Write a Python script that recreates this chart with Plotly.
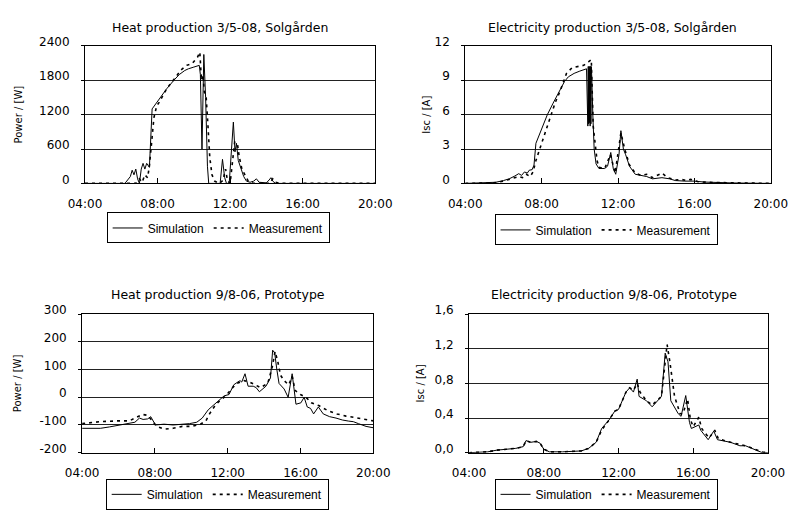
import plotly.graph_objects as go

# ---- Heat production 3/5-08, Solgården (W) ----
heat_sg_sim_t = [4.0, 6.2, 6.35, 6.5, 6.6, 6.7, 6.8, 6.9, 7.0, 7.1, 7.2, 7.3, 7.4, 7.55, 7.7, 8.0, 8.5, 8.9,
                 9.2, 9.5, 9.7, 10.0, 10.3, 10.36, 10.45, 10.55, 10.65, 10.75, 10.82, 11.45, 11.58, 11.7, 11.8,
                 11.95, 12.1, 12.18, 12.27, 12.35, 12.45, 12.6, 12.75, 12.9, 13.1, 13.3, 13.45, 13.6, 14.0,
                 14.15, 14.25, 14.35, 14.5, 20.0]
heat_sg_sim = [0, 0, 60, 120, 230, 150, 250, 80, 0, 250, 350, 250, 350, 280, 1300, 1430, 1650, 1800,
               1900, 1970, 2000, 2030, 2060, 1900, 600, 2250, 1500, 300, 0, 0, 420, 100, 0,
               0, 600, 1070, 550, 700, 400, 250, 120, 40, 20, 40, 80, 20, 10,
               60, 100, 40, 0, 0]
heat_sg_meas_t = [4.0, 6.8, 7.0, 7.15, 7.3, 7.45, 7.55, 7.65, 7.8, 7.95, 8.1, 8.5, 9.0, 9.3, 9.6, 9.9, 10.2,
                  10.33, 10.42, 10.5, 10.58, 10.68, 10.78, 10.88, 11.0, 11.15, 11.4, 11.6, 11.75, 11.85, 12.0,
                  12.1, 12.25, 12.4, 12.5, 12.65, 12.8, 13.0, 13.3, 14.2, 14.35, 14.5, 14.8, 20.0]
heat_sg_meas = [0, 0, 80, 20, 150, 100, 300, 600, 1150, 1350, 1420, 1650, 1850, 1980, 2060, 2090, 2200,
                2290, 1800, 1900, 1600, 1500, 1000, 450, 150, 40, 0, 50, 250, 50, 0,
                300, 720, 700, 470, 250, 150, 40, 0, 0, 80, 20, 0, 0]

# ---- Electricity production 3/5-08, Solgården (A) ----
el_sg_sim_t = [4.0, 5.0, 5.6, 6.0, 6.3, 6.6, 6.8, 6.95, 7.1, 7.25, 7.35, 7.5, 7.6, 7.7, 8.0, 8.3, 8.6, 8.9,
               9.2, 9.4, 9.7, 10.0, 10.35, 10.42, 10.44, 10.46, 10.48, 10.5, 10.52, 10.54, 10.56, 10.58,
               10.6, 10.62, 10.68, 10.75, 10.85, 11.0, 11.3, 11.45, 11.62, 11.75, 11.88, 12.05, 12.15,
               12.28, 12.4, 12.6, 12.9, 13.2, 13.5, 13.8, 14.0, 14.3, 14.7, 15.0, 15.5, 16.0, 16.5, 17.0,
               18.0, 19.0, 20.0]
el_sg_sim = [0.0, 0.03, 0.1, 0.25, 0.4, 0.65, 0.85, 0.7, 1.0, 0.9, 1.15, 1.2, 1.6, 3.5, 4.7, 6.0, 7.0, 8.0,
             8.9, 9.3, 9.6, 9.8, 10.0, 5.0, 10.2, 5.2, 10.2, 5.3, 10.2, 5.0, 10.2, 5.2,
             10.2, 9.5, 6.0, 3.0, 1.7, 1.3, 1.3, 1.5, 2.7, 1.3, 0.8, 2.5, 4.6,
             3.0, 2.5, 1.5, 0.8, 0.7, 0.6, 0.4, 0.45, 0.5, 0.4, 0.25, 0.2, 0.2, 0.12, 0.08,
             0.04, 0.02, 0.0]
el_sg_meas_t = [4.0, 5.5, 6.0, 6.5, 6.8, 7.0, 7.2, 7.4, 7.55, 7.7, 7.9, 8.1, 8.4, 8.7, 9.0, 9.3, 9.6, 9.9,
                10.2, 10.45, 10.6, 10.7, 10.8, 10.9, 11.0, 11.3, 11.6, 11.85, 12.15, 12.35, 12.6, 12.9,
                13.2, 13.5, 13.8, 14.3, 14.6, 15.0, 15.3, 15.6, 15.8, 16.2, 17.0, 18.0, 20.0]
el_sg_meas = [0.0, 0.05, 0.2, 0.45, 0.6, 0.5, 0.8, 0.6, 1.0, 2.0, 3.0, 4.2, 5.7, 7.0, 8.2, 9.6, 10.1, 10.2,
              10.3, 10.6, 10.8, 5.0, 3.2, 2.0, 1.4, 1.3, 2.5, 0.9, 4.4, 3.0, 1.6, 0.9,
              0.7, 0.8, 0.5, 0.9, 0.5, 0.3, 0.35, 0.25, 0.35, 0.15, 0.08, 0.04, 0.0]

# ---- Heat production 9/8-06, Prototype (W) ----
heat_pt_sim_t = [4.0, 5.0, 5.5, 6.0, 6.5, 6.9, 7.15, 7.35, 7.6, 7.77, 8.03, 8.5, 9.0, 9.5, 9.9, 10.3, 10.6,
                 10.93, 11.28, 11.55, 11.8, 12.07, 12.33, 12.55, 12.68, 12.77, 12.95, 13.12, 13.4, 13.56,
                 13.74, 14.1, 14.35, 14.47, 14.58, 14.7, 14.82, 15.1, 15.32, 15.54, 15.65, 15.75, 16.02,
                 16.2, 16.37, 16.55, 16.72, 16.98, 17.25, 17.6, 17.95, 18.3, 18.65, 18.9, 19.18, 19.6, 20.0]
heat_pt_sim = [-112, -112, -107, -100, -95, -90, -75, -80, -78, -70, -100, -97, -100, -98, -95, -90, -75,
               -45, -25, -10, 5, 10, 45, 55, 60, 55, 85, 40, 40, 35,
               20, 40, 70, 170, 160, 100, 50, 30, 0, 85, 30, -25, -20,
               0, -35, -40, -60, -35, -60, -70, -75, -82, -86, -88, -95, -105, -110]
heat_pt_meas_t = [4.0, 5.0, 6.0, 6.6, 7.0, 7.3, 7.6, 7.85, 8.1, 8.5, 9.0, 9.5, 10.0, 10.5, 10.8, 11.0, 11.3,
                  11.6, 11.9, 12.2, 12.5, 12.9, 13.2, 13.5, 13.8, 14.2, 14.45, 14.6, 14.75, 14.9, 15.1,
                  15.35, 15.55, 15.7, 16.0, 16.3, 16.6, 17.0, 17.5, 18.0, 18.5, 19.0, 19.5, 20.0]
heat_pt_meas = [-95, -88, -85, -85, -72, -62, -65, -85, -105, -115, -112, -105, -105, -97, -85, -60, -30,
                -10, 5, 30, 50, 60, 55, 45, 35, 50, 110, 165, 130, 80, 60,
                45, 75, 25, 10, 0, -20, -30, -48, -60, -68, -73, -78, -85]

# ---- Electricity production 9/8-06, Prototype (A) ----
el_pt_sim_t = [4.0, 5.0, 5.5, 6.5, 6.9, 7.05, 7.3, 7.6, 7.8, 8.0, 8.3, 9.0, 10.0, 10.4, 10.8, 11.1, 11.5,
               11.8, 12.0, 12.4, 12.6, 12.8, 13.0, 13.1, 13.5, 13.8, 14.3, 14.5, 14.65, 14.8, 15.2, 15.35,
               15.6, 15.8, 15.9, 16.3, 16.4, 16.6, 16.8, 17.1, 17.3, 18.0, 18.5, 18.8, 19.3, 19.7, 20.0]
el_pt_sim = [0.0, 0.01, 0.03, 0.05, 0.07, 0.14, 0.12, 0.13, 0.11, 0.04, 0.01, 0.01, 0.02, 0.05, 0.12, 0.28, 0.38,
             0.48, 0.5, 0.7, 0.75, 0.7, 0.85, 0.65, 0.6, 0.53, 0.65, 1.15, 1.05, 0.6, 0.45, 0.42,
             0.66, 0.35, 0.28, 0.32, 0.26, 0.2, 0.15, 0.25, 0.15, 0.12, 0.08, 0.08, 0.04, 0.0, 0.0]
el_pt_meas_t = [4.0, 5.0, 5.5, 6.5, 6.9, 7.05, 7.3, 7.6, 7.8, 8.0, 8.3, 9.0, 10.0, 10.4, 10.8, 11.1, 11.5,
                11.8, 12.0, 12.4, 12.6, 12.8, 13.0, 13.15, 13.5, 13.8, 14.3, 14.6, 14.75, 15.0, 15.3, 15.45,
                15.7, 15.85, 16.0, 16.3, 16.45, 16.65, 16.85, 17.15, 17.35, 18.0, 18.5, 18.8, 19.3, 19.7, 20.0]
el_pt_meas = [0.0, 0.01, 0.03, 0.05, 0.07, 0.14, 0.12, 0.13, 0.11, 0.04, 0.01, 0.01, 0.02, 0.05, 0.12, 0.26, 0.38,
              0.48, 0.5, 0.7, 0.75, 0.72, 0.8, 0.7, 0.6, 0.55, 0.65, 1.25, 1.05, 0.65, 0.45, 0.45,
              0.62, 0.38, 0.3, 0.41, 0.28, 0.22, 0.17, 0.26, 0.16, 0.12, 0.09, 0.08, 0.04, 0.01, 0.0]

x_tickvals = [4, 8, 12, 16, 20]
x_ticktext = ["04:00", "08:00", "12:00", "16:00", "20:00"]

titles = ["Heat production 3/5-08, Solgården", "Electricity production 3/5-08, Solgården",
          "Heat production 9/8-06, Prototype", "Electricity production 9/8-06, Prototype"]
y_titles = ["Power / [W]", "Isc / [A]", "Power / [W]", "Isc / [A]"]
y_tickvals = [[0, 600, 1200, 1800, 2400], [0, 3, 6, 9, 12],
              [-200, -100, 0, 100, 200, 300], [0.0, 0.4, 0.8, 1.2, 1.6]]
y_ticktext = [["0", "600", "1200", "1800", "2400"], ["0", "3", "6", "9", "12"],
              ["-200", "-100", "0", "100", "200", "300"], ["0,0", "0,4", "0,8", "1,2", "1,6"]]

series = [
    (heat_sg_sim_t, heat_sg_sim, heat_sg_meas_t, heat_sg_meas),
    (el_sg_sim_t, el_sg_sim, el_sg_meas_t, el_sg_meas),
    (heat_pt_sim_t, heat_pt_sim, heat_pt_meas_t, heat_pt_meas),
    (el_pt_sim_t, el_pt_sim, el_pt_meas_t, el_pt_meas),
]

W, H = 806, 510
FONT = "DejaVu Sans, Verdana, sans-serif"
LEGEND_FONT = "Liberation Sans, Arial, sans-serif"

# plot-area boxes in pixels: left, right, top, bottom
boxes = [(71, 374, 36, 178), (468, 787, 36, 178), (68, 372, 313, 456), (472, 784, 313, 456)]
legend_pos = [(210, 224), (615, 226), (209, 499), (615, 499)]
title_pos = [(212, 17), (622, 17), (210, 293), (623, 293)]
y_title_standoff = [14, 2, 15, 8]

fig = go.Figure()
layout = dict(width=W, height=H, margin=dict(l=0, r=0, t=0, b=0),
              paper_bgcolor="white", plot_bgcolor="white",
              font=dict(family=FONT, size=12, color="black"), annotations=[])

for i, (st, sv, mt, mv) in enumerate(series):
    n = "" if i == 0 else str(i + 1)
    leg = "legend" if i == 0 else f"legend{i + 1}"
    fig.add_trace(go.Scatter(x=st, y=sv, mode="lines", name="Simulation",
                             line=dict(color="black", width=1), xaxis=f"x{n}", yaxis=f"y{n}", legend=leg))
    fig.add_trace(go.Scatter(x=mt, y=mv, mode="lines", name="Measurement",
                             line=dict(color="black", width=1.6, dash="3px,4px"),
                             xaxis=f"x{n}", yaxis=f"y{n}", legend=leg))
    l, r, t, b = boxes[i]
    yv = y_tickvals[i]
    layout[f"xaxis{n}"] = dict(domain=[l / W, r / W], anchor=f"y{n}", range=[4, 20],
                               tickvals=x_tickvals, ticktext=x_ticktext, ticks="inside", ticklen=5,
                               tickcolor="black", showline=True, linecolor="black", linewidth=1,
                               mirror=True, showgrid=False, zeroline=False, ticklabelstandoff=9,
                               tickfont=dict(size=12), fixedrange=True)
    layout[f"yaxis{n}"] = dict(domain=[1 - b / H, 1 - t / H], anchor=f"x{n}", range=[yv[0], yv[-1]],
                               tickvals=yv, ticktext=y_ticktext[i], ticks="outside", ticklen=3,
                               tickcolor="black", showline=True, ticklabelstandoff=9, ticklabelshift=-4,
                               linecolor="black", linewidth=1, mirror=True, showgrid=True,
                               gridcolor="#222", gridwidth=1, zeroline=False,
                               tickfont=dict(size=12),
                               title=dict(text=y_titles[i], font=dict(size=10), standoff=y_title_standoff[i]))
    lx, ly = legend_pos[i]
    layout[leg] = dict(x=lx / W, y=1 - ly / H, xanchor="center", yanchor="middle", orientation="h",
                       bordercolor="black", borderwidth=1, bgcolor="white",
                       font=dict(family=LEGEND_FONT, size=12), itemwidth=30, tracegroupgap=0)
    tx, ty = title_pos[i]
    layout["annotations"].append(dict(text=titles[i], x=tx / W, y=1 - ty / H, xref="paper", yref="paper",
                                      showarrow=False, xanchor="center", yanchor="middle",
                                      font=dict(size=12.5)))

fig.update_layout(**layout)
fig.write_html("out.html")
